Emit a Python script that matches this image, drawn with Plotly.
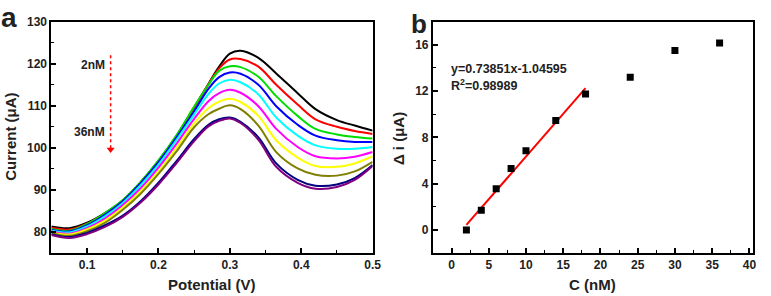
import plotly.graph_objects as go

# ---------------- Panel a data: DPV curves ----------------
potential = [0.05, 0.075, 0.10, 0.125, 0.15, 0.175, 0.20, 0.225, 0.25, 0.27,
             0.285, 0.30, 0.315, 0.34, 0.365, 0.395, 0.42, 0.45, 0.475, 0.50]

cur_black   = [81.3, 80.9, 82.2, 84.5, 87.5, 91.8, 96.9, 102.8, 109.6, 115.2,
               119.3, 122.4, 123.1, 121.4, 117.7, 113.0, 109.2, 106.6, 105.3, 104.1]
cur_red     = [81.0, 80.6, 82.0, 84.4, 87.4, 91.7, 96.8, 102.7, 109.6, 115.1,
               118.9, 121.0, 121.1, 119.3, 115.0, 110.3, 106.8, 105.0, 104.0, 103.3]
cur_green   = [80.7, 80.3, 81.9, 84.5, 87.6, 91.9, 97.0, 102.9, 109.8, 115.0,
               118.3, 119.4, 119.2, 116.9, 112.3, 107.6, 104.5, 103.2, 102.6, 102.2]
cur_blue    = [80.5, 80.1, 81.6, 84.1, 87.3, 91.6, 96.6, 102.4, 108.7, 114.0,
               116.8, 117.9, 117.6, 115.0, 109.9, 105.5, 102.9, 101.8, 101.4, 101.4]
cur_cyan    = [80.3, 79.9, 81.3, 83.7, 86.9, 91.1, 96.0, 101.8, 107.9, 112.8,
               115.3, 116.2, 115.6, 112.7, 107.2, 102.9, 100.6, 99.8, 99.8, 100.2]
cur_magenta = [80.1, 79.6, 80.9, 83.2, 86.4, 90.4, 95.3, 100.9, 106.9, 111.1,
               113.0, 113.8, 113.1, 109.9, 104.5, 100.2, 98.0, 97.5, 97.9, 99.0]
cur_yellow  = [79.9, 79.4, 80.6, 82.7, 85.8, 89.7, 94.4, 99.9, 105.8, 109.4,
               111.0, 111.7, 110.9, 107.6, 101.8, 97.7, 95.7, 95.5, 96.3, 98.0]
cur_olive   = [79.7, 79.1, 80.2, 82.2, 85.3, 89.1, 93.8, 99.1, 104.9, 108.0,
               109.3, 110.1, 109.2, 105.3, 99.0, 95.1, 93.6, 93.4, 94.4, 96.7]
cur_navy    = [79.5, 78.8, 79.8, 81.6, 83.9, 87.3, 91.7, 96.8, 102.1, 105.5,
               106.8, 107.2, 106.2, 102.5, 96.3, 92.4, 91.0, 91.3, 92.8, 95.9]
cur_purple  = [79.3, 78.6, 79.5, 81.2, 83.6, 87.0, 91.3, 96.3, 101.6, 105.1,
               106.4, 107.0, 105.9, 101.9, 95.5, 91.7, 90.3, 90.7, 92.4, 95.7]

curves = [cur_black, cur_red, cur_green, cur_blue, cur_cyan,
          cur_magenta, cur_yellow, cur_olive, cur_navy, cur_purple]
curve_colors = ["#000000", "#ff0000", "#00dd00", "#0000ff", "#00ffff",
                "#ff00ff", "#ffff00", "#808000", "#000080", "#800080"]

# arrow annotation (concentration direction)
arrow_x = [0.133, 0.133]
arrow_y = [122.0, 99.6]
label_top = "2nM"
label_bottom = "36nM"

# ---------------- Panel b data: calibration ----------------
conc = [2, 4, 6, 8, 10, 14, 18, 24, 30, 36]
delta_i = [0.0, 1.7, 3.55, 5.3, 6.85, 9.45, 11.75, 13.2, 15.5, 16.15]
fit_x = [2, 18]
fit_y = [0.43, 12.25]
eq_text = "y=0.73851x-1.04595"
r2_text = "R<sup>2</sup>=0.98989"

FONT = "Arial, Liberation Sans, sans-serif"

fig = go.Figure()

for ys, c in zip(curves, curve_colors):
    fig.add_trace(go.Scatter(x=potential, y=ys, mode="lines",
                             line=dict(color=c, width=2, shape="spline", smoothing=1.0),
                             xaxis="x", yaxis="y", showlegend=False))

fig.add_trace(go.Scatter(x=arrow_x, y=arrow_y, mode="lines",
                         line=dict(color="#ff0000", width=1.5, dash="dot"),
                         xaxis="x", yaxis="y", showlegend=False))
fig.add_trace(go.Scatter(x=[arrow_x[1]], y=[arrow_y[1]], mode="markers",
                         marker=dict(symbol="triangle-down", size=7, color="#ff0000"),
                         xaxis="x", yaxis="y", showlegend=False))

fig.add_trace(go.Scatter(x=fit_x, y=fit_y, mode="lines",
                         line=dict(color="#ff0000", width=2),
                         xaxis="x2", yaxis="y2", showlegend=False))
fig.add_trace(go.Scatter(x=conc, y=delta_i, mode="markers",
                         marker=dict(symbol="square", size=7, color="#000000"),
                         xaxis="x2", yaxis="y2", showlegend=False))

tickfont = dict(family=FONT, size=12, color="#222", weight="bold")

def ax(domain, rng, dtick, mdtick, anchor, tick0=0):
    return dict(domain=domain, range=rng, dtick=dtick, tick0=tick0,
                ticks="inside", ticklen=5, tickwidth=1.5, tickcolor="#000",
                minor=dict(ticks="inside", ticklen=3, tickwidth=1.2, tickcolor="#000",
                           dtick=mdtick, tick0=tick0),
                showline=True, linecolor="#000", linewidth=2, mirror=True,
                showgrid=False, zeroline=False, tickfont=tickfont, anchor=anchor)

xd_a = [52 / 771, 377 / 771]
xd_b = [438 / 771, 762 / 771]
yd = [1 - 252 / 296, 1 - 15 / 296]

fig.update_layout(
    width=771, height=296, autosize=False,
    margin=dict(l=0, r=0, t=0, b=0),
    paper_bgcolor="white", plot_bgcolor="white",
    xaxis=ax(xd_a, [0.05, 0.5], 0.1, 0.05, "y"),
    yaxis=ax(yd, [75, 130], 10, 5, "x"),
    xaxis2=ax(xd_b, [-2.5, 40.5], 5, 2.5, "y2"),
    yaxis2=ax(yd, [-2, 18], 4, 2, "x2"),
)

def ann(text, x, y, size, xref="paper", yref="paper", xanchor="center",
        yanchor="middle", angle=0):
    fig.add_annotation(text=text, x=x, y=y, xref=xref, yref=yref,
                       xanchor=xanchor, yanchor=yanchor, showarrow=False,
                       textangle=angle,
                       font=dict(family=FONT, size=size, color="#222", weight="bold"))

def px(xp):
    return xp / 771

def py(yp):
    return 1 - yp / 296

ann("a", px(9), py(11), 28)
ann("b", px(424), py(17), 26)
ann("Current (μA)", px(11), py(133), 15, angle=-90)
ann("Potential (V)", px(214), py(284), 15)
ann("Δ i (μA)", px(404), py(135), 15, angle=-90)
ann("C (nM)", px(600), py(284), 15)
ann(label_top, 0.128, 119.7, 12, xref="x", yref="y", xanchor="right")
ann(label_bottom, 0.128, 103.8, 12, xref="x", yref="y", xanchor="right")
ann(eq_text, px(454), py(63), 12.5, xanchor="left")
ann(r2_text, px(454), py(80), 12.5, xanchor="left")

post = """
document.body.style.margin='0';
document.documentElement.style.overflow='hidden';
"""
fig.write_html("out.html",
               config={"responsive": False, "displayModeBar": False},
               post_script=post)
